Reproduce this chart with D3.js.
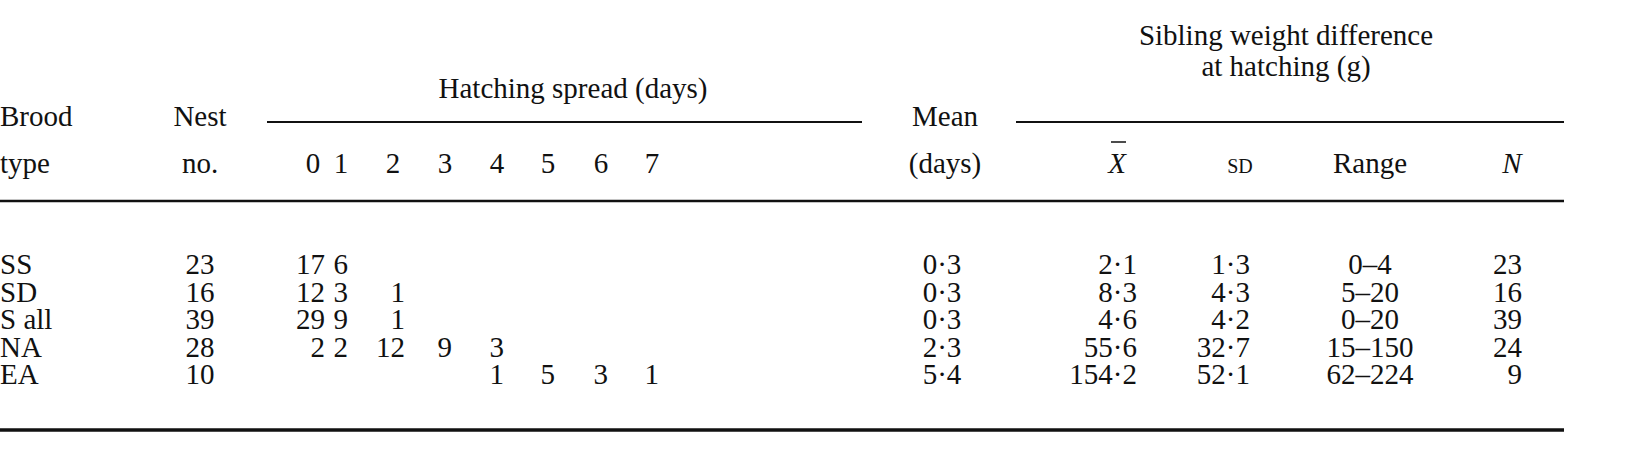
<!DOCTYPE html>
<html><head><meta charset="utf-8">
<script src="https://cdn.jsdelivr.net/npm/d3@7"></script>
<style>body{margin:0;background:#fff}text{font-family:"Liberation Serif","DejaVu Serif",serif;fill:#111}</style>
</head><body><svg id="c" width="1646" height="470"></svg>
<script>
const broodTypes=["SS","SD","S all","NA","EA"];
const nestNo=[23,16,39,28,10];
const spreadDays=[0,1,2,3,4,5,6,7];
const spreadCounts=[
 [17,6,null,null,null,null,null,null],
 [12,3,1,null,null,null,null,null],
 [29,9,1,null,null,null,null,null],
 [2,2,12,9,3,null,null,null],
 [null,null,null,null,1,5,3,1]];
const meanDays=[0.3,0.3,0.3,2.3,5.4];
const weightMean=[2.1,8.3,4.6,55.6,154.2];
const weightSD=[1.3,4.3,4.2,32.7,52.1];
const weightRange=["0–4","5–20","0–20","15–150","62–224"];
const weightN=[23,16,39,24,9];

const svg=d3.select("#c");
const fs=29;
const dot=v=>v.toFixed(1).replace(".","·");
const y=d3.scalePoint().domain(broodTypes).range([274,384]);
const colR=d3.scaleOrdinal().domain(spreadDays).range([325,348,405,452,504,555,608,659]);
function t(x,yv,s,anchor,extra){const e=svg.append("text").attr("x",x).attr("y",yv).attr("font-size",fs).attr("text-anchor",anchor||"middle").text(s);if(extra)extra(e);return e;}
function rule(x1,x2,yv,w){svg.append("line").attr("x1",x1).attr("x2",x2).attr("y1",yv).attr("y2",yv).attr("stroke","#111").attr("stroke-width",w);}
// headers
t(1286,45,"Sibling weight difference");
t(1286,76,"at hatching (g)");
t(573,98,"Hatching spread (days)");
rule(267,862,122,2);rule(1016,1564,122,2);
t(0,126,"Brood","start");t(0,173,"type","start");
t(200,126,"Nest");t(200,173,"no.");
t(945,126,"Mean");t(945,173,"(days)");
spreadDays.forEach(d=>t(colR(d)-(d===0||d===2?12:7),173,String(d)));
t(1117,173,"X","middle",e=>e.attr("font-style","italic"));
svg.append("line").attr("x1",1111).attr("x2",1126).attr("y1",142).attr("y2",142).attr("stroke","#111").attr("stroke-width",1.5);
t(1240,173,"SD","middle",e=>e.attr("font-size",20));
t(1370,173,"Range");
t(1512,173,"N","middle",e=>e.attr("font-style","italic"));
rule(0,1564,201,2.5);
// rows
broodTypes.forEach((b,i)=>{
 const yy=y(b);
 t(0,yy,b,"start");
 t(200,yy,String(nestNo[i]));
 spreadCounts[i].forEach((v,d)=>{if(v!=null)t(colR(d),yy,String(v),"end");});
 t(942,yy,dot(meanDays[i]));
 t(1137,yy,dot(weightMean[i]),"end");
 t(1250,yy,dot(weightSD[i]),"end");
 t(1370,yy,weightRange[i]);
 t(1522,yy,String(weightN[i]),"end");
});
rule(0,1564,430,3.5);
</script></body></html>
